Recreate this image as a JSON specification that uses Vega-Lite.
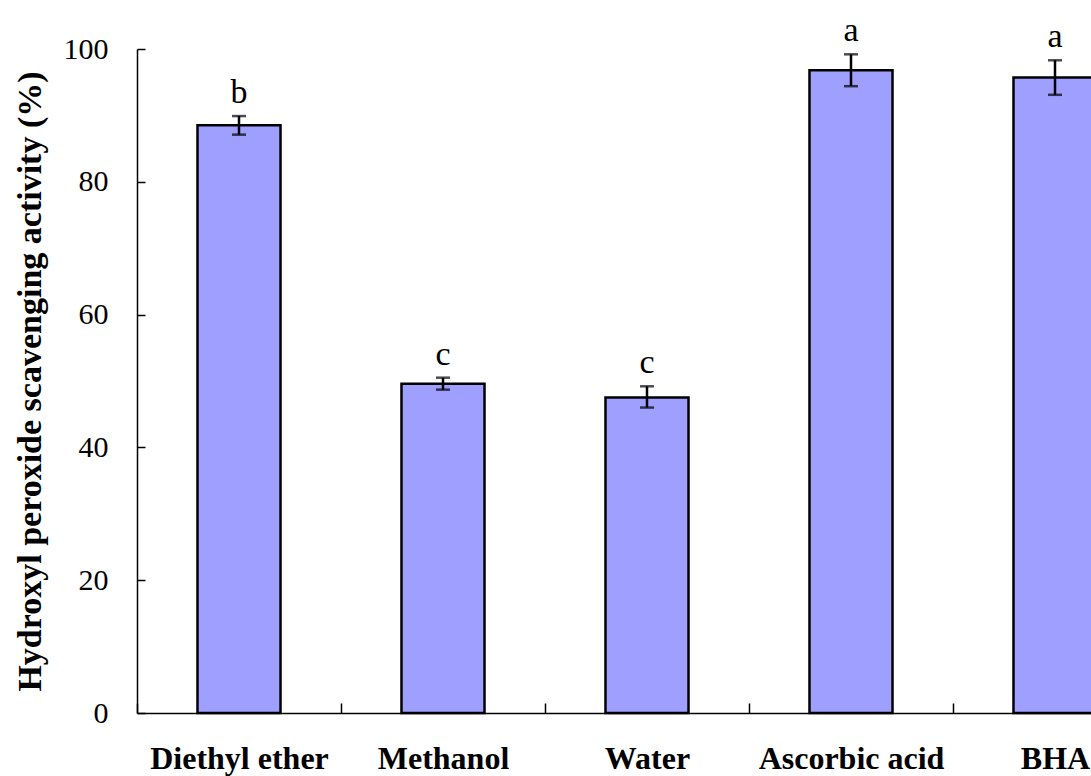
{
  "$schema": "https://vega.github.io/schema/vega-lite/v6.json",
  "width": 954,
  "height": 664,
  "autosize": {"type": "none"},
  "padding": {"left": 137, "top": 49, "right": 0, "bottom": 63},
  "background": "white",
  "config": {
    "view": {"stroke": null},
    "font": "Liberation Serif"
  },
  "data": {
    "values": [
      {"solvent": "Diethyl ether", "mean": 88.5, "lo": 87.1, "hi": 89.9, "group": "b"},
      {"solvent": "Methanol", "mean": 49.6, "lo": 48.7, "hi": 50.5, "group": "c"},
      {"solvent": "Water", "mean": 47.5, "lo": 46.0, "hi": 49.2, "group": "c"},
      {"solvent": "Ascorbic acid", "mean": 96.8, "lo": 94.4, "hi": 99.2, "group": "a"},
      {"solvent": "BHA", "mean": 95.7, "lo": 93.1, "hi": 98.3, "group": "a"}
    ]
  },
  "encoding": {
    "x": {
      "field": "solvent",
      "type": "nominal",
      "sort": null,
      "scale": {"range": [0, 1020], "paddingInner": 0, "paddingOuter": 0},
      "axis": {
        "title": null,
        "labelAngle": 0,
        "labelFont": "Liberation Serif",
        "labelFontWeight": "bold",
        "labelFontSize": 32,
        "labelColor": "black",
        "labelPadding": 40,
        "labelLimit": 400,
        "labelOverlap": false,
        "tickBand": "extent",
        "tickSize": -10,
        "tickColor": "black",
        "tickWidth": 1.5,
        "domainColor": "black",
        "domainWidth": 1.5
      }
    }
  },
  "layer": [
    {
      "mark": {"type": "bar", "width": {"band": 0.407}, "fill": "#9f9fff", "stroke": "black", "strokeWidth": 2.5},
      "encoding": {
        "y": {
          "field": "mean",
          "type": "quantitative",
          "scale": {"domain": [0, 100], "nice": false},
          "axis": {
            "title": "Hydroxyl peroxide scavenging activity (%)",
            "titleFont": "Liberation Serif",
            "titleFontSize": 34,
            "titleFontWeight": "bold",
            "titleColor": "black",
            "titleAngle": -90,
            "titleX": -107,
            "titleY": 332,
            "titleAlign": "center",
            "titleBaseline": "middle",
            "titleLimit": 800,
            "values": [0, 20, 40, 60, 80, 100],
            "grid": false,
            "labelFont": "Liberation Serif",
            "labelFontSize": 30,
            "labelColor": "black",
            "labelPadding": 37,
            "tickSize": -8,
            "tickColor": "black",
            "tickWidth": 1.5,
            "domainColor": "black",
            "domainWidth": 1.5
          }
        }
      }
    },
    {
      "mark": {"type": "rule", "color": "black", "strokeWidth": 2.5},
      "encoding": {
        "y": {"field": "lo", "type": "quantitative"},
        "y2": {"field": "hi"}
      }
    },
    {
      "mark": {"type": "tick", "color": "black", "size": 14, "thickness": 2.5, "orient": "horizontal"},
      "encoding": {"y": {"field": "hi", "type": "quantitative"}}
    },
    {
      "mark": {"type": "tick", "color": "black", "size": 14, "thickness": 2.5, "orient": "horizontal"},
      "encoding": {"y": {"field": "lo", "type": "quantitative"}}
    },
    {
      "mark": {"type": "text", "font": "Liberation Serif", "fontSize": 34, "color": "black", "baseline": "alphabetic", "dy": -13},
      "encoding": {
        "y": {"field": "hi", "type": "quantitative"},
        "text": {"field": "group"}
      }
    }
  ]
}
